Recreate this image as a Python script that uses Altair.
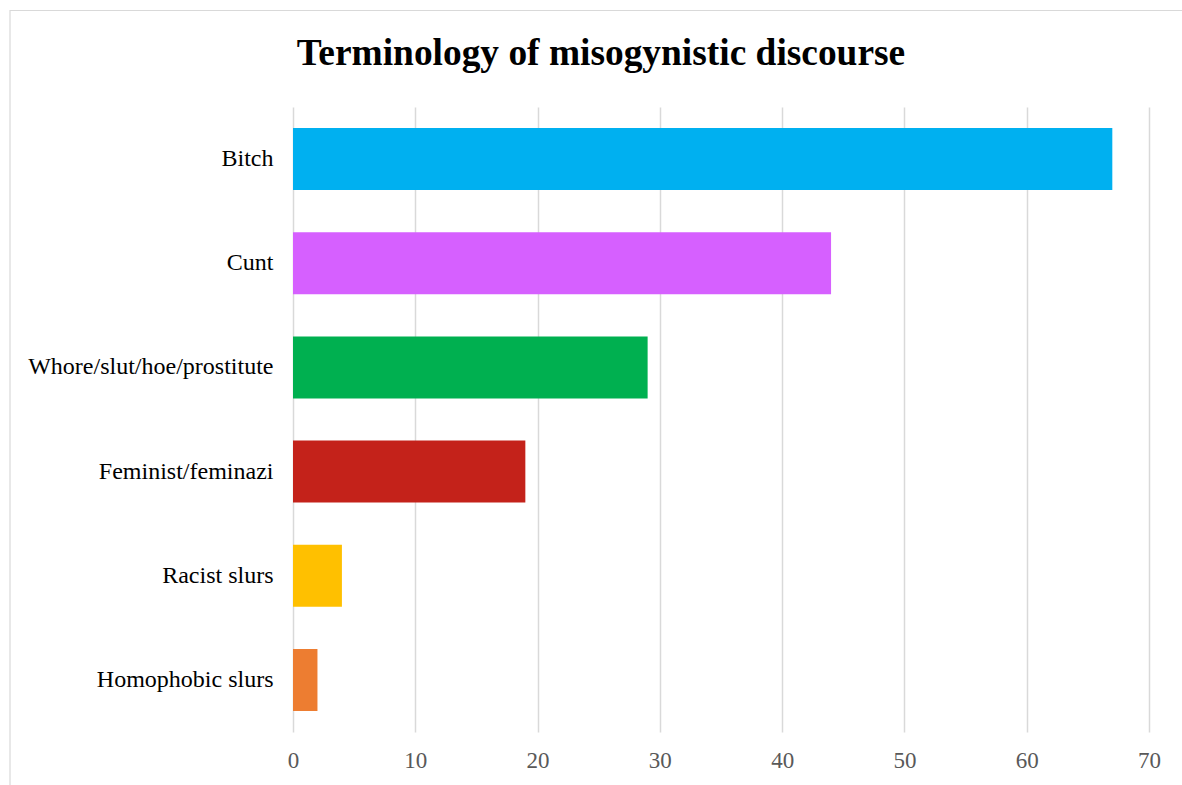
import altair as alt
import pandas as pd

title_text = "Terminology of misogynistic discourse"
categories = ["Bitch", "Cunt", "Whore/slut/hoe/prostitute", "Feminist/feminazi",
              "Racist slurs", "Homophobic slurs"]
values = [67, 44, 29, 19, 4, 2]
colors = ["#00B0F0", "#D660FF", "#00B050", "#C4221A", "#FFC000", "#ED7D31"]
x_ticks = [0, 10, 20, 30, 40, 50, 60, 70]

df = pd.DataFrame({"term": categories, "count": values})

W, H = 856, 625
LEFT, TOP = 293, 107

bars = alt.Chart(df).mark_bar(size=62).encode(
    y=alt.Y("term:N", sort=categories, title=None,
            scale=alt.Scale(paddingInner=0.4, paddingOuter=0.2),
            axis=alt.Axis(labelFont="Liberation Serif", labelFontSize=24,
                          labelColor="#000000", labelPadding=20, ticks=False,
                          domain=False, grid=False, labelLimit=400)),
    x=alt.X("count:Q", title=None,
            scale=alt.Scale(domain=[0, 70], nice=False),
            axis=alt.Axis(values=x_ticks, labelFont="Liberation Serif", labelFontSize=23,
                          labelColor="#595959", labelPadding=17, ticks=False,
                          labelFlush=False,
                          domain=False, grid=True, gridColor="#D9D9D9",
                          gridWidth=1.5)),
    color=alt.Color("term:N", scale=alt.Scale(domain=categories, range=colors),
                    legend=None),
)

frame = alt.Chart(alt.Data(values=[{}])).mark_rect(
    fill=None, fillOpacity=0, stroke="#D9D9D9", strokeWidth=1.2, clip=False
).encode(
    x=alt.value(10 - LEFT), x2=alt.value(1182 - LEFT + 20),
    y=alt.value(10.5 - TOP), y2=alt.value(785 - TOP + 20),
)

title = alt.Chart(alt.Data(values=[{"t": title_text}])).mark_text(
    font="Liberation Serif", fontSize=37.4, fontWeight="bold", color="#000000",
    align="center", baseline="alphabetic", clip=False
).encode(
    text="t:N", x=alt.value(601 - LEFT), y=alt.value(65 - TOP),
)

chart = alt.layer(frame, bars, title).properties(
    width=W, height=H,
    autosize=alt.AutoSizeParams(type="none"),
    padding={"left": LEFT, "top": TOP, "right": 1182 - LEFT - W, "bottom": 785 - TOP - H},
).configure(background="#FFFFFF").configure_view(strokeWidth=0, stroke="transparent")

chart.save("out.html", embed_options={"renderer": "svg", "actions": False})
